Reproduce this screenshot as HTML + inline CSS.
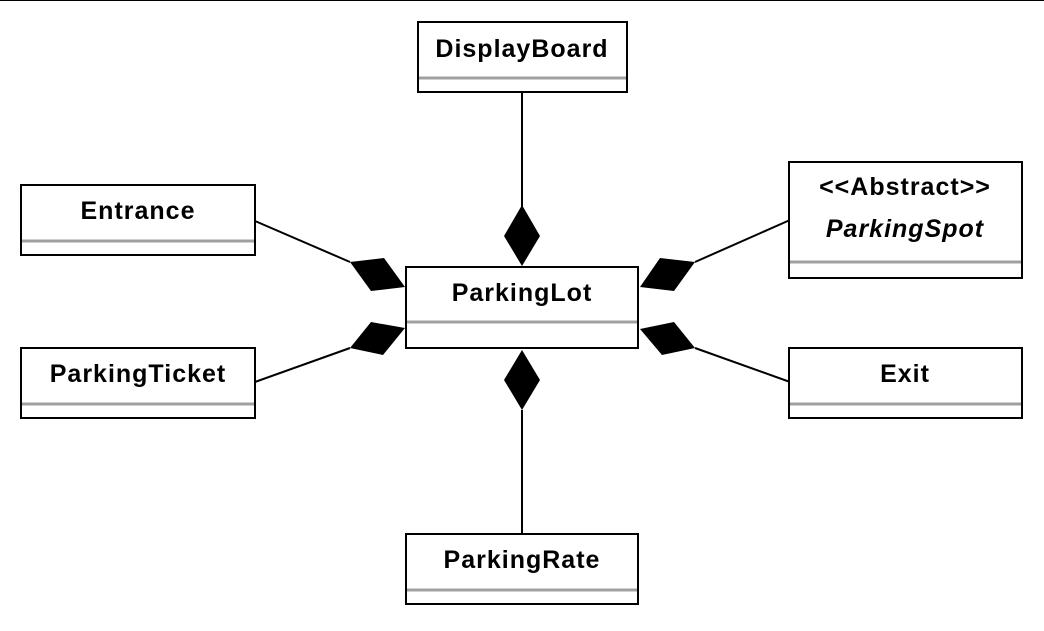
<!DOCTYPE html>
<html><head><style>
body{margin:0;background:#fff;}
svg text{font-family:"Liberation Sans",Arial,sans-serif;font-weight:bold;font-size:25px;letter-spacing:1px;text-anchor:middle;fill:#000;}
</style></head><body>
<svg width="1044" height="626" viewBox="0 0 1044 626" xmlns="http://www.w3.org/2000/svg">
<line x1="0" y1="0.5" x2="1044" y2="0.5" stroke="#000" stroke-width="1"/>
<g stroke="#000" stroke-width="2" fill="none">
<line x1="522" y1="93" x2="522" y2="207"/>
<line x1="522" y1="410" x2="522" y2="533"/>
<line x1="255" y1="221" x2="350" y2="262"/>
<line x1="255" y1="382" x2="350" y2="348"/>
<line x1="695" y1="262" x2="790" y2="220"/>
<line x1="695" y1="348" x2="790" y2="382"/>
</g>
<g fill="#000">
<polygon points="522,205 540,236 522,266 504,236"/>
<polygon points="522,350 540,380 522,410 504,380"/>
<polygon points="350,262 384,258 405,287 371,291"/>
<polygon points="350,348 383,355 405,328 371,322"/>
<polygon points="695,262 660,258 640,287 674,291"/>
<polygon points="695,348 662,355 640,329 674,322"/>
</g>
<g fill="#fff" stroke="#000" stroke-width="2">
<rect x="418" y="22" width="209" height="70"/>
<rect x="21" y="185" width="234" height="70"/>
<rect x="21" y="348" width="234" height="70"/>
<rect x="406" y="267" width="232" height="81"/>
<rect x="789" y="162" width="233" height="116"/>
<rect x="789" y="348" width="233" height="70"/>
<rect x="406" y="534" width="232" height="70"/>
</g>
<g stroke="#a0a0a0" stroke-width="3">
<line x1="419" y1="78" x2="626" y2="78"/>
<line x1="22" y1="241" x2="254" y2="241"/>
<line x1="22" y1="404" x2="254" y2="404"/>
<line x1="407" y1="322" x2="637" y2="322"/>
<line x1="790" y1="262" x2="1021" y2="262"/>
<line x1="790" y1="404" x2="1021" y2="404"/>
<line x1="407" y1="590" x2="637" y2="590"/>
</g>
<text x="522" y="57">DisplayBoard</text>
<text x="138" y="219">Entrance</text>
<text x="138" y="382">ParkingTicket</text>
<text x="522" y="301">ParkingLot</text>
<text x="905" y="195">&lt;&lt;Abstract&gt;&gt;</text>
<text x="905" y="237" font-style="italic">ParkingSpot</text>
<text x="905" y="382">Exit</text>
<text x="522" y="568">ParkingRate</text>
</svg>
</body></html>
